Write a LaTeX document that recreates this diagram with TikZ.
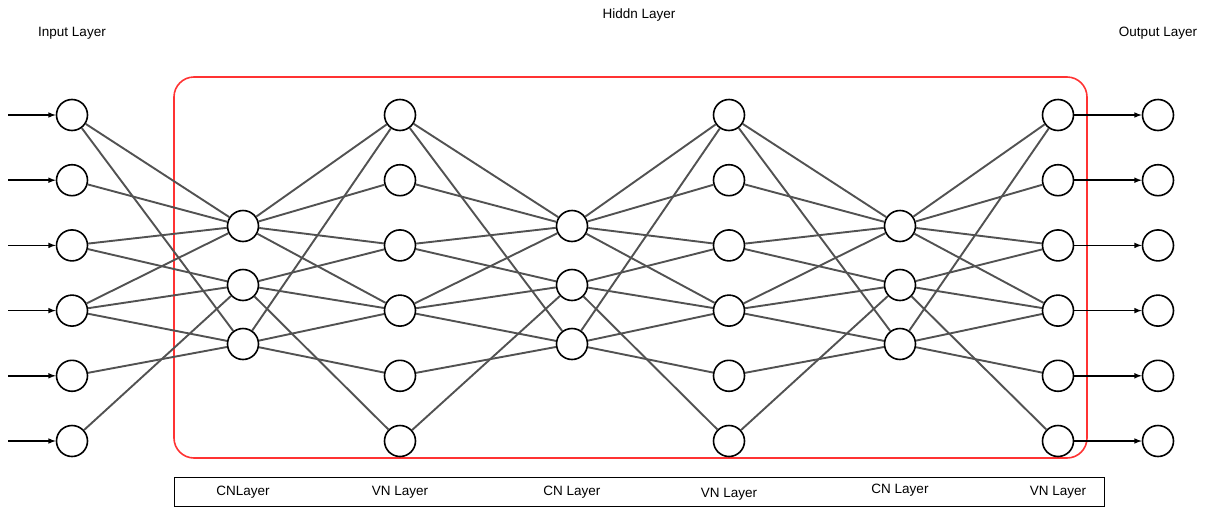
\documentclass[tikz,border=0pt]{standalone}
\usepackage{fontspec}
\setmainfont{Liberation Sans}
\usetikzlibrary{arrows}
\tikzstyle{neuron} = [circle, minimum size=31pt, inner sep=0pt, draw=black, line width=1.6pt, fill=white]
\tikzstyle{link} = [draw=black!68, line width=1.9pt]
\tikzstyle{arrow} = [line width=1.5pt, ->, >=latex]
\tikzstyle{caption} = [font=\fontsize{13.5}{15}\selectfont]

\begin{document}
\begin{tikzpicture}[x=1pt, y=-1pt]
\useasboundingbox (0,0) rectangle (1208,509);

% hidden part frame
\draw[red!80, line width=1.6pt, rounded corners=20pt] (174,77) rectangle (1087,458);
\node[draw=black, line width=1pt, minimum width=930pt, minimum height=29pt, inner sep=0pt] (legend) at (639,491.5) {};

% variable node columns
\foreach \col/\x in {in/72, vna/400, vnb/729, vnc/1058, out/1158}
  \foreach \i in {1,...,6}
    \node[neuron] (\col\i) at (\x,{115+65.2*(\i-1)}) {};

% check node columns
\foreach \col/\x in {cna/243, cnb/572, cnc/900}
  \foreach \i in {1,2,3}
    \node[neuron] (\col\i) at (\x,{226+59*(\i-1)}) {};

% edges, same pattern in every block
\foreach \l/\c/\r in {in/cna/vna, vna/cnb/vnb, vnb/cnc/vnc}
  \foreach \k/\vs in {1/{1,2,3,4}, 2/{3,4,6}, 3/{1,4,5}}
    \foreach \v in \vs {
      \draw[link] (\l\v) -- (\c\k);
      \draw[link] (\c\k) -- (\r\v);
    }

% inputs and outputs
\foreach \i in {1,...,6} {
  \coordinate (src\i) at (8,{115+65.2*(\i-1)});
  \draw[arrow] (src\i) -- (in\i);
  \draw[arrow] (vnc\i) -- (out\i);
}

\node[caption] (inlabel) at (72,33) {Input Layer};
\node[caption] (hidlabel) at (639,15) {Hiddn Layer};
\node[caption] (outlabel) at (1158,33) {Output Layer};

\node[caption] (lab1) at (243,492) {CNLayer};
\node[caption] (lab2) at (400,492) {VN Layer};
\node[caption] (lab3) at (572,492) {CN Layer};
\node[caption] (lab4) at (729,494) {VN Layer};
\node[caption] (lab5) at (900,490) {CN Layer};
\node[caption] (lab6) at (1058,492) {VN Layer};

\end{tikzpicture}
\end{document}
